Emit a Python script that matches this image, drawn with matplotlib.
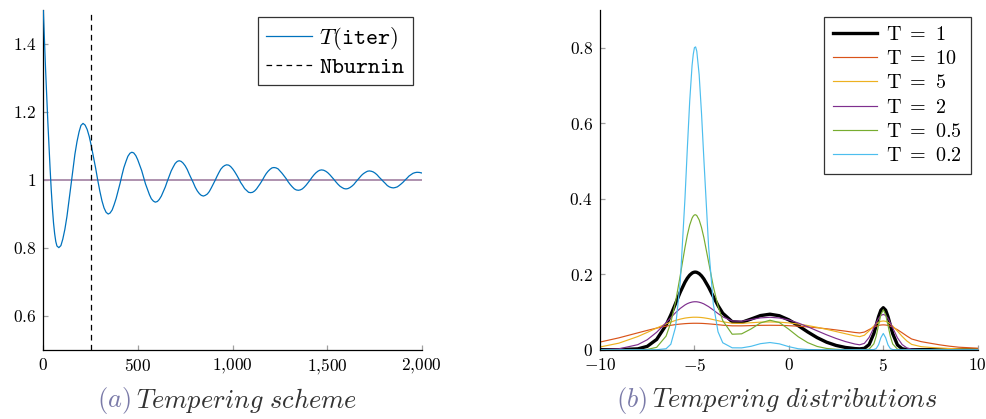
import matplotlib
matplotlib.use("Agg")
import matplotlib.pyplot as plt

plt.rcParams['mathtext.fontset'] = 'cm'
plt.rcParams['font.family'] = 'serif'
plt.rcParams['font.serif'] = ['cmr10', 'DejaVu Serif']
plt.rcParams['axes.unicode_minus'] = False

# ---------------- data: (a) tempering scheme ----------------
iters = [0, 6, 12, 18, 24, 30, 36, 42, 48, 54, 60, 66, 72,
         82, 93, 103, 114, 125, 135, 146, 157, 167, 178, 189, 199,
         210, 221, 232, 243, 254, 265, 277, 288, 299, 310, 321, 332,
         343, 353, 364, 374, 385, 395, 406, 416, 426, 437, 447, 458,
         468, 478, 489, 499, 509, 520, 530, 540, 551, 561, 571, 582,
         592, 603, 613, 624, 634, 645, 655, 666, 676, 687, 697, 708,
         718, 729, 739, 750, 761, 771, 782, 793, 803, 814, 825, 835,
         846, 856, 867, 877, 887, 897, 908, 918, 928, 938, 949, 959,
         969, 980, 990, 1001, 1011, 1022, 1033, 1043, 1054, 1064, 1075, 1085,
         1096, 1106, 1117, 1127, 1137, 1147, 1158, 1168, 1178, 1188, 1199, 1209,
         1219, 1230, 1241, 1251, 1262, 1273, 1284, 1294, 1305, 1316, 1327, 1337,
         1348, 1358, 1369, 1379, 1389, 1399, 1410, 1420, 1430, 1440, 1451, 1461,
         1471, 1482, 1493, 1503, 1514, 1525, 1536, 1546, 1557, 1568, 1579, 1589,
         1600, 1610, 1621, 1631, 1641, 1651, 1662, 1672, 1682, 1692, 1703, 1713,
         1723, 1734, 1744, 1755, 1765, 1776, 1787, 1797, 1808, 1818, 1829, 1839,
         1850, 1860, 1871, 1881, 1892, 1902, 1912, 1923, 1933, 1944, 1954, 1965,
         1975, 1988, 2000]
temperature = [1.500, 1.410, 1.325, 1.245, 1.170, 1.098, 1.032, 0.970, 0.917, 0.873, 0.841, 0.818, 0.805,
               0.800, 0.806, 0.825, 0.854, 0.892, 0.936, 0.983, 1.030, 1.075, 1.112, 1.141, 1.160,
               1.166, 1.161, 1.148, 1.127, 1.099, 1.067, 1.033, 0.998, 0.966, 0.938, 0.917, 0.904,
               0.899, 0.902, 0.911, 0.926, 0.945, 0.966, 0.990, 1.014, 1.036, 1.054, 1.069, 1.078,
               1.081, 1.079, 1.071, 1.059, 1.044, 1.027, 1.008, 0.988, 0.971, 0.956, 0.944, 0.937,
               0.934, 0.936, 0.942, 0.952, 0.965, 0.979, 0.995, 1.011, 1.026, 1.038, 1.048, 1.054,
               1.056, 1.054, 1.049, 1.041, 1.030, 1.017, 1.004, 0.991, 0.978, 0.967, 0.959, 0.954,
               0.952, 0.954, 0.958, 0.965, 0.975, 0.986, 0.998, 1.010, 1.021, 1.031, 1.038, 1.042,
               1.044, 1.043, 1.039, 1.032, 1.024, 1.014, 1.003, 0.992, 0.983, 0.974, 0.968, 0.963,
               0.962, 0.963, 0.967, 0.973, 0.981, 0.989, 0.999, 1.009, 1.018, 1.025, 1.031, 1.035,
               1.036, 1.035, 1.032, 1.026, 1.019, 1.011, 1.003, 0.994, 0.986, 0.979, 0.973, 0.970,
               0.969, 0.970, 0.973, 0.978, 0.984, 0.991, 0.999, 1.007, 1.014, 1.020, 1.025, 1.028,
               1.029, 1.028, 1.025, 1.021, 1.015, 1.008, 1.001, 0.994, 0.987, 0.981, 0.977, 0.974,
               0.973, 0.974, 0.977, 0.981, 0.986, 0.993, 1.000, 1.006, 1.013, 1.018, 1.022, 1.025,
               1.026, 1.025, 1.023, 1.019, 1.014, 1.007, 1.001, 0.995, 0.989, 0.983, 0.979, 0.977,
               0.976, 0.977, 0.979, 0.983, 0.988, 0.993, 0.999, 1.005, 1.011, 1.015, 1.019, 1.021,
               1.022, 1.0215, 1.020]
n_burnin = 250
target_T = 1.0
left_xticks = [0, 500, 1000, 1500, 2000]
left_xlabels = ['$0$', '$500$', '$1{,}000$', '$1{,}500$', '$2{,}000$']
left_yticks = [0.6, 0.8, 1.0, 1.2, 1.4]
left_ylabels = ['$0.6$', '$0.8$', '$1$', '$1.2$', '$1.4$']

# ---------------- data: (b) tempering distributions ----------------
x = [-10, -9, -8, -7.5, -7, -6.5, -6.25, -6, -5.75, -5.5, -5.375, -5.25, -5.125, -5.0625, -5, -4.9375, -4.875,
     -4.75, -4.625, -4.5, -4.25, -4, -3.75, -3.5, -3, -2.5, -2, -1.5, -1, -0.5, 0, 0.5,
     1, 1.5, 2, 2.5, 3, 3.5, 3.75, 4, 4.25, 4.5, 4.625, 4.75, 4.875, 5, 5.125,
     5.25, 5.375, 5.5, 5.75, 6, 6.25, 6.5, 7, 7.5, 8, 8.5, 9, 10]
dens_T1 = [0.0000, 0.0001, 0.0022, 0.0088, 0.0272, 0.0653, 0.0921, 0.1222, 0.1525, 0.1789, 0.1894, 0.1975, 0.2029, 0.2045, 0.2054, 0.2055, 0.2049,
           0.2016, 0.1956, 0.1873, 0.1657, 0.1408, 0.1167, 0.0966, 0.0740, 0.0724, 0.0812, 0.0904, 0.0940, 0.0899, 0.0790, 0.0636,
           0.0470, 0.0319, 0.0198, 0.0113, 0.0059, 0.0029, 0.0022, 0.0036, 0.0135, 0.0428, 0.0649, 0.0875, 0.1048, 0.1112, 0.1047,
           0.0873, 0.0646, 0.0424, 0.0127, 0.0024, 0.0003, 0.0000, 0, 0, 0, 0, 0, 0]
dens_T10 = [0.0202, 0.0314, 0.0446, 0.0511, 0.0572, 0.0624, 0.0646, 0.0665, 0.0679, 0.0690, 0.0694, 0.0697, 0.0699, 0.0700, 0.0700, 0.0700, 0.0700,
            0.0699, 0.0697, 0.0694, 0.0685, 0.0674, 0.0662, 0.0649, 0.0632, 0.0631, 0.0638, 0.0645, 0.0647, 0.0645, 0.0636, 0.0623,
            0.0604, 0.0581, 0.0554, 0.0524, 0.0491, 0.0456, 0.0444, 0.0467, 0.0533, 0.0598, 0.0624, 0.0643, 0.0654, 0.0658, 0.0654,
            0.0643, 0.0624, 0.0598, 0.0530, 0.0448, 0.0362, 0.0284, 0.0214, 0.0170, 0.0128, 0.0093, 0.0066, 0.0040]
dens_T5 = [0.0072, 0.0173, 0.0348, 0.0458, 0.0574, 0.0684, 0.0733, 0.0775, 0.0810, 0.0837, 0.0846, 0.0853, 0.0858, 0.0860, 0.0860, 0.0860, 0.0860,
           0.0857, 0.0852, 0.0844, 0.0824, 0.0797, 0.0768, 0.0740, 0.0701, 0.0698, 0.0714, 0.0730, 0.0736, 0.0729, 0.0710, 0.0680,
           0.0640, 0.0593, 0.0539, 0.0481, 0.0423, 0.0366, 0.0346, 0.0383, 0.0499, 0.0629, 0.0683, 0.0725, 0.0752, 0.0761, 0.0752,
           0.0725, 0.0682, 0.0627, 0.0493, 0.0352, 0.0230, 0.0141, 0.0081, 0.0060, 0.0045, 0.0032, 0.0023, 0.0011]
dens_T2 = [0.0003, 0.0023, 0.0133, 0.0263, 0.0462, 0.0716, 0.0851, 0.0980, 0.1094, 0.1185, 0.1220, 0.1245, 0.1262, 0.1267, 0.1270, 0.1270, 0.1269,
           0.1258, 0.1239, 0.1213, 0.1141, 0.1051, 0.0957, 0.0871, 0.0762, 0.0754, 0.0799, 0.0843, 0.0859, 0.0840, 0.0788, 0.0707,
           0.0607, 0.0500, 0.0394, 0.0298, 0.0215, 0.0150, 0.0130, 0.0168, 0.0325, 0.0580, 0.0714, 0.0829, 0.0907, 0.0935, 0.0907,
           0.0828, 0.0712, 0.0577, 0.0316, 0.0136, 0.0047, 0.0014, 0.0003, 0.0002, 0.0001, 0, 0, 0]
dens_T05 = [0, 0, 0.0000, 0.0007, 0.0063, 0.0361, 0.0718, 0.1264, 0.1967, 0.2709, 0.3036, 0.3302, 0.3484, 0.3539, 0.3570, 0.3574, 0.3553,
            0.3439, 0.3237, 0.2969, 0.2323, 0.1677, 0.1153, 0.0770, 0.0410, 0.0420, 0.0550, 0.0710, 0.0780, 0.0720, 0.0540, 0.0342,
            0.0187, 0.0086, 0.0033, 0.0011, 0.0003, 0.0001, 0, 0.0001, 0.0015, 0.0155, 0.0356, 0.0648, 0.0929, 0.1060, 0.0928,
            0.0645, 0.0353, 0.0152, 0.0014, 0.0001, 0, 0, 0, 0, 0, 0, 0, 0]
dens_T02 = [0, 0, 0, 0, 0.0000, 0.0026, 0.0145, 0.0597, 0.1803, 0.4013, 0.5336, 0.6582, 0.7527, 0.7820, 0.8000, 0.8020, 0.7905,
            0.7286, 0.6265, 0.5046, 0.2733, 0.1211, 0.0474, 0.0184, 0.0050, 0.0048, 0.0090, 0.0160, 0.0190, 0.0155, 0.0080, 0.0025,
            0.0005, 0.0001, 0, 0, 0, 0, 0, 0, 0, 0.0004, 0.0030, 0.0130, 0.0320, 0.0430, 0.0318,
            0.0128, 0.0029, 0.0004, 0, 0, 0, 0, 0, 0, 0, 0, 0, 0]
series_labels = [r'$\mathrm{T}\ =\ 1$', r'$\mathrm{T}\ =\ 10$', r'$\mathrm{T}\ =\ 5$',
                 r'$\mathrm{T}\ =\ 2$', r'$\mathrm{T}\ =\ 0.5$', r'$\mathrm{T}\ =\ 0.2$']
right_xticks = [-10, -5, 0, 5, 10]
right_xlabels = ['$-10$', '$-5$', '$0$', '$5$', '$10$']
right_yticks = [0, 0.2, 0.4, 0.6, 0.8]
right_ylabels = ['$0$', '$0.2$', '$0.4$', '$0.6$', '$0.8$']

# ---------------- figure ----------------
W, H = 987, 419
fig = plt.figure(figsize=(W / 100, H / 100), dpi=100)

def fx(px):
    return px / W

def fy(py):
    return 1 - py / H

ax1 = fig.add_axes([fx(43.3), fy(349.5), fx(421.7) - fx(43.3), fy(10) - fy(349.5)])
ax2 = fig.add_axes([fx(600), fy(349.7), fx(977.7) - fx(600), fy(9.9) - fy(349.7)])

TICKFS = 12.5
for ax in (ax1, ax2):
    for s in ('top', 'right'):
        ax.spines[s].set_visible(False)
    for s in ('left', 'bottom'):
        ax.spines[s].set_linewidth(0.9)
    ax.tick_params(direction='in', length=3.5, width=0.9, color='#a0a0a0', labelsize=TICKFS)
    ax.tick_params(axis='x', pad=5.5)
    ax.tick_params(axis='y', pad=5)

# (a)
ax1.plot(iters, temperature, color='#0072BD', lw=0.9, label=r'$T(\mathtt{iter})$', zorder=3)
ax1.axvline(n_burnin, color='black', lw=0.9, ls=(0, (4.5, 3.5)), label=r'$\mathtt{Nburnin}$', zorder=4)
ax1.plot([0, 2000], [target_T, target_T], color='#a889a8', lw=1.3, zorder=2)
ax1.set_xlim(0, 2000)
ax1.set_ylim(0.5, 1.5)
ax1.set_xticks(left_xticks, left_xlabels)
ax1.set_yticks(left_yticks, left_ylabels)
leg1 = ax1.legend(loc='upper right', bbox_to_anchor=(fx(413), fy(17)), bbox_transform=fig.transFigure,
                  borderaxespad=0, fancybox=False, edgecolor='#333333', framealpha=1,
                  fontsize=16.5, handlelength=2.0, handletextpad=0.3, borderpad=0.35, labelspacing=0.22)
leg1.get_frame().set_linewidth(0.9)

# (b)
colors = ['black', '#D95319', '#EDB120', '#7E2F8E', '#77AC30', '#4DBEEE']
widths = [2.4, 0.85, 0.85, 0.85, 0.85, 0.85]
for dens, lab, c, w in zip([dens_T1, dens_T10, dens_T5, dens_T2, dens_T05, dens_T02],
                           series_labels, colors, widths):
    ax2.plot(x, dens, color=c, lw=w, label=lab)
ax2.set_xlim(-10, 10)
ax2.set_ylim(0, 0.9)
ax2.set_xticks(right_xticks, right_xlabels)
ax2.set_yticks(right_yticks, right_ylabels)
leg2 = ax2.legend(loc='upper right', bbox_to_anchor=(fx(971), fy(17)), bbox_transform=fig.transFigure,
                  borderaxespad=0, fancybox=False, edgecolor='#333333', framealpha=1,
                  fontsize=14.5, handlelength=2.2, handletextpad=0.45, borderpad=0.45, labelspacing=0.3)
leg2.get_frame().set_linewidth(0.9)

# captions
cap_col = '#7a7aa8'
CAPFS = 19
fig.text(fx(131), fy(400), r'$\mathit{(a)}$', color=cap_col, fontsize=CAPFS, ha='right', va='center')
fig.text(fx(136), fy(400), r'$\mathit{Tempering\ scheme}$', color='#333333', fontsize=CAPFS, ha='left', va='center')
fig.text(fx(647), fy(400), r'$\mathit{(b)}$', color=cap_col, fontsize=CAPFS, ha='right', va='center')
fig.text(fx(652), fy(400), r'$\mathit{Tempering\ distributions}$', color='#333333', fontsize=CAPFS, ha='left', va='center')

fig.savefig('out.png', dpi=100)
